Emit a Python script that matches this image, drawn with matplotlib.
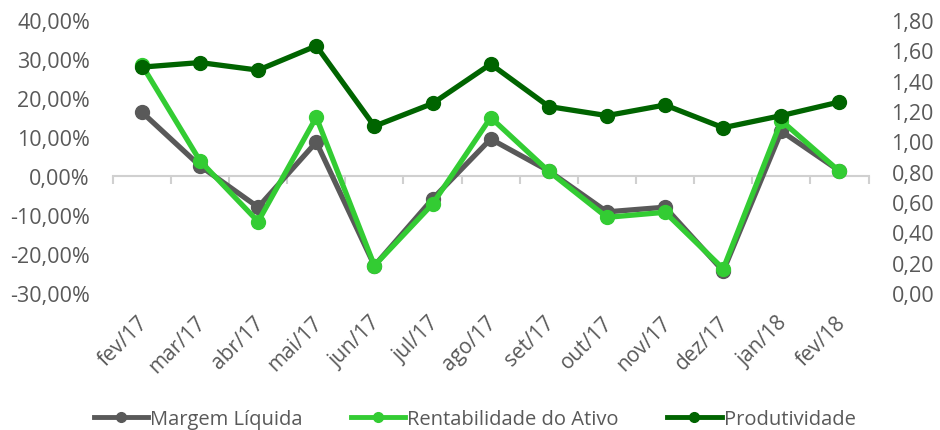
import matplotlib
matplotlib.use("Agg")
import matplotlib.pyplot as plt
from matplotlib.lines import Line2D
import matplotlib.transforms as mtransforms

categories = ["fev/17", "mar/17", "abr/17", "mai/17", "jun/17", "jul/17", "ago/17",
              "set/17", "out/17", "nov/17", "dez/17", "jan/18", "fev/18"]
margem_liquida = [16.4, 2.6, -8.0, 8.7, -23.0, -5.9, 9.5, 1.3, -9.2, -8.0, -24.4, 11.5, 1.3]
rentabilidade_ativo = [28.5, 3.9, -11.7, 15.1, -23.0, -7.2, 15.0, 1.2, -10.6, -9.3, -23.8, 14.2, 1.2]
produtividade = [1.49, 1.52, 1.47, 1.63, 1.10, 1.25, 1.51, 1.23, 1.17, 1.24, 1.09, 1.17, 1.26]
left_ticks = [-30, -20, -10, 0, 10, 20, 30, 40]
right_ticks = [0.0, 0.2, 0.4, 0.6, 0.8, 1.0, 1.2, 1.4, 1.6, 1.8]

plt.rcParams['font.family'] = ['Open Sans', 'DejaVu Sans']
TXT = "#595959"
C_GRAY = "#595959"
C_LIGHT = "#33CC33"
C_DARK = "#006400"

fig = plt.figure(figsize=(9.4, 4.31), dpi=100)
ax = fig.add_axes([0.120, 0.318, 0.804, 0.633])
ax2 = ax.twinx()

x = list(range(len(categories)))
lw = 3.8
ms = 10
ax.plot(x, margem_liquida, color=C_GRAY, lw=lw, marker='o', ms=ms, zorder=3)
ax.plot(x, rentabilidade_ativo, color=C_LIGHT, lw=lw, marker='o', ms=ms, zorder=4)
ax2.plot(x, produtividade, color=C_DARK, lw=lw, marker='o', ms=ms, zorder=5)

ax.set_xlim(-0.5, len(categories) - 0.5)
ax.set_ylim(-30, 40)
ax2.set_ylim(0, 1.8)
ax.set_yticks(left_ticks)
ax.set_yticklabels([f"{v:.2f}%".replace('.', ',') for v in left_ticks])
ax2.set_yticks(right_ticks)
ax2.set_yticklabels([f"{v:.2f}".replace('.', ',') for v in right_ticks])

for a in (ax, ax2):
    for s in ('left', 'right', 'top'):
        a.spines[s].set_visible(False)
    a.tick_params(axis='y', length=0, labelsize=15.5, labelcolor=TXT, pad=16.5)
ax2.spines['bottom'].set_visible(False)

ax.spines['bottom'].set_position(('data', 0))
ax.spines['bottom'].set_color('#D0D0D0')
ax.spines['bottom'].set_linewidth(1.5)
ax.set_xticks([i - 0.5 for i in range(len(categories) + 1)])
ax.set_xticklabels([])
ax.tick_params(axis='x', length=6, width=1.5, color='#D0D0D0', direction='out')

trans = mtransforms.blended_transform_factory(ax.transData, ax.transAxes)
for i, c in enumerate(categories):
    ax.text(i - 0.08, -0.07, c, transform=trans, rotation=45, ha='right', va='top',
            rotation_mode='anchor', fontsize=15, color=TXT)

handles = [
    Line2D([0], [0], color=C_GRAY, lw=3.5, marker='o', ms=7),
    Line2D([0], [0], color=C_LIGHT, lw=3.5, marker='o', ms=7),
    Line2D([0], [0], color=C_DARK, lw=3.5, marker='o', ms=7),
]
labels = ["Margem Líquida", "Rentabilidade do Ativo", "Produtividade"]
leg = fig.legend(handles, labels, loc='center', bbox_to_anchor=(0.505, 0.026), ncol=3,
                 frameon=False, fontsize=14.5, handlelength=2.7, handletextpad=0.1,
                 columnspacing=2.4, labelcolor=TXT)

fig.savefig("out.png", dpi=100)
